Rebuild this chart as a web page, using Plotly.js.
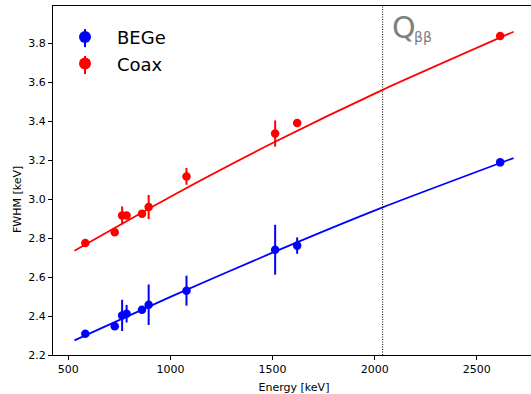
<!DOCTYPE html>
<html>
<head>
<meta charset="utf-8">
<script src="https://cdn.plot.ly/plotly-3.0.1.min.js"></script>
<style>
html, body { margin: 0; padding: 0; overflow: hidden; background: #fff; }
#chart { width: 540px; height: 394px; }
</style>
</head>
<body>
<div id="chart"></div>
<script>
// Calibration peak energies [keV]
const energies = [583.2, 727.3, 763.5, 785.4, 860.6, 893.4, 1078.6, 1512.7, 1620.5, 2614.5];
// BEGe FWHM [keV] and uncertainties
const begeFwhm = [2.309, 2.347, 2.403, 2.412, 2.432, 2.458, 2.530, 2.740, 2.761, 3.188];
const begeErr  = [0.010, 0.010, 0.080, 0.045, 0.012, 0.104, 0.077, 0.128, 0.042, 0.008];
// Coax FWHM [keV] and uncertainties
const coaxFwhm = [2.774, 2.829, 2.916, 2.916, 2.925, 2.959, 3.116, 3.336, 3.390, 3.836];
const coaxErr  = [0.010, 0.010, 0.046, 0.015, 0.012, 0.062, 0.043, 0.067, 0.012, 0.008];
// Fit curves
const fitEnergy = [530, 1000, 1500, 2039, 2680];
const begeFit   = [2.275, 2.498, 2.725, 2.957, 3.210];
const coaxFit   = [2.735, 3.012, 3.287, 3.560, 3.858];
// Q-value
const QBB = 2039;
const xTicks = [500, 1000, 1500, 2000, 2500];
const yTicks = [2.2, 2.4, 2.6, 2.8, 3.0, 3.2, 3.4, 3.6, 3.8];

const FONT = 'DejaVu Sans, sans-serif';
const BLUE = '#0000ff', RED = '#ff0000';

function pointTrace(y, err, color, name) {
  return {
    x: energies, y: y, type: 'scatter', mode: 'markers', name: name, showlegend: false,
    marker: { color: color, size: 8.5 },
    error_y: { type: 'data', array: err, visible: true, color: color, thickness: 2, width: 0 }
  };
}
function fitTrace(y, color) {
  return {
    x: fitEnergy, y: y, type: 'scatter', mode: 'lines', showlegend: false,
    line: { color: color, width: 1.8, shape: 'spline', smoothing: 0.6 }, hoverinfo: 'skip'
  };
}
function legendTrace(color, name) {
  return {
    x: [null], y: [null], type: 'scatter', mode: 'markers', name: name,
    marker: { color: color, size: 12 }
  };
}

const data = [
  fitTrace(begeFit, BLUE), fitTrace(coaxFit, RED),
  pointTrace(begeFwhm, begeErr, BLUE, 'BEGe'),
  pointTrace(coaxFwhm, coaxErr, RED, 'Coax'),
  legendTrace(BLUE, 'BEGe'), legendTrace(RED, 'Coax')
];

// small vertical error-bar strokes drawn through the legend symbols
function legendBar(color, yc) {
  return { type: 'line', xref: 'paper', yref: 'paper', x0: 0.0664, x1: 0.0664,
           y0: yc - 0.026, y1: yc + 0.026, line: { color: color, width: 2 } };
}

const layout = {
  width: 540, height: 394,
  margin: { l: 53, r: 5, t: 6, b: 39 },
  paper_bgcolor: '#fff', plot_bgcolor: '#fff',
  font: { family: FONT, size: 11, color: '#000' },
  showlegend: true,
  legend: {
    x: 0, y: 0.963, xanchor: 'left', yanchor: 'top',
    font: { family: FONT, size: 18, color: '#000' },
    bgcolor: 'rgba(0,0,0,0)', itemwidth: 54, tracegroupgap: 0
  },
  xaxis: {
    range: [425, 2785], tickvals: xTicks, ticktext: xTicks.map(String),
    ticks: 'outside', ticklen: 4, tickwidth: 1, tickcolor: '#000',
    showline: true, mirror: true, linecolor: '#000', linewidth: 1,
    showgrid: false, zeroline: false,
    tickfont: { family: FONT, size: 11, color: '#000' },
    title: { text: 'Energy [keV]', font: { family: FONT, size: 11, color: '#000' }, standoff: 8 }
  },
  yaxis: {
    range: [2.2, 3.99], tickvals: yTicks, ticktext: yTicks.map(v => v.toFixed(1)),
    ticks: 'outside', ticklen: 4, tickwidth: 1, tickcolor: '#000',
    showline: true, mirror: true, linecolor: '#000', linewidth: 1,
    showgrid: false, zeroline: false,
    tickfont: { family: FONT, size: 11, color: '#000' }
  },
  shapes: [
    { type: 'line', xref: 'x', yref: 'paper', x0: QBB, x1: QBB, y0: 0, y1: 1,
      line: { color: '#000', width: 1, dash: '1px,1.5px' } },
    legendBar(BLUE, 0.908), legendBar(RED, 0.831)
  ],
  annotations: [
    { text: 'FWHM [keV]', xref: 'paper', yref: 'paper', x: 0, y: 0.444, xshift: -36,
      textangle: -90, showarrow: false, xanchor: 'center', yanchor: 'middle',
      font: { family: FONT, size: 11, color: '#000' } },
    { text: 'Q', xref: 'x', yref: 'paper', x: QBB, y: 1, xanchor: 'left', yanchor: 'top',
      xshift: 7, yshift: -2, showarrow: false,
      font: { family: FONT, size: 30, color: '#808080' } },
    { text: 'ββ', xref: 'x', yref: 'paper', x: QBB, y: 1, xanchor: 'left', yanchor: 'top',
      xshift: 29, yshift: -21, showarrow: false,
      font: { family: FONT, size: 14, color: '#808080' } }
  ]
};

Plotly.newPlot('chart', data, layout, { displayModeBar: false, staticPlot: true });
</script>
</body>
</html>
